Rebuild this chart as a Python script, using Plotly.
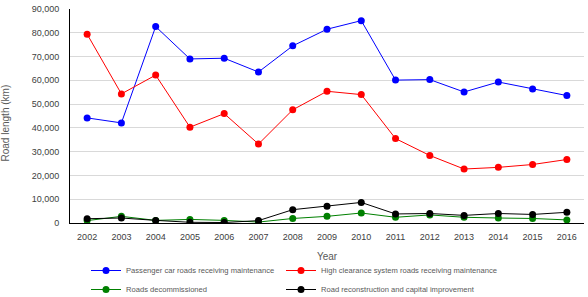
import plotly.graph_objects as go

years = [str(y) for y in range(2002, 2017)]
passenger = [44200, 42100, 82600, 69000, 69300, 63500, 74500, 81500, 85100, 60100, 60300, 55100, 59300, 56400, 53600]
high_clearance = [79400, 54300, 62200, 40300, 46000, 33200, 47600, 55400, 54000, 35500, 28400, 22700, 23400, 24600, 26700]
decommissioned = [1000, 2800, 1100, 1500, 1100, 400, 1900, 2800, 4200, 2400, 3400, 2400, 2100, 1900, 1300]
reconstruction = [1800, 2100, 1100, 300, 200, 1000, 5600, 7000, 8650, 3800, 4000, 3200, 4000, 3600, 4500]

series = [
    ("Passenger car roads receiving maintenance", passenger, "#0000ff", "legend"),
    ("High clearance system roads receiving maintenance", high_clearance, "#ff0000", "legend2"),
    ("Roads decommissioned", decommissioned, "#008000", "legend"),
    ("Road reconstruction and capital improvement", reconstruction, "#000000", "legend2"),
]

fig = go.Figure()
for name, vals, col, lg in series:
    fig.add_trace(go.Scatter(
        x=years, y=vals, name=name, mode="lines+markers",
        line=dict(color=col, width=1),
        marker=dict(color=col, size=7),
        legend=lg,
    ))

txt = "#595959"
leg_common = dict(
    orientation="v", xref="container", xanchor="left",
    y=41/297, yref="container", yanchor="top",
    font=dict(size=7.6, color=txt), tracegroupgap=0, itemwidth=30,
    bgcolor="rgba(0,0,0,0)",
)
fig.update_layout(
    width=588, height=297,
    margin=dict(l=70, r=4, t=9, b=74, autoexpand=False),
    plot_bgcolor="white", paper_bgcolor="white",
    font=dict(family="Liberation Sans", size=9, color=txt),
    showlegend=True,
    legend=dict(x=86/588, **leg_common),
    legend2=dict(x=281/588, **leg_common),
    annotations=[dict(
        text="Road length (km)", textangle=-90,
        xref="paper", x=(5 - 70) / 514, xanchor="center",
        yref="paper", y=0.465, yanchor="middle",
        showarrow=False, font=dict(size=10, color=txt),
    )],
)
fig.update_xaxes(
    type="category", range=[-0.5, 14.5], showgrid=False,
    showline=True, linecolor="#000000", linewidth=1,
    ticks="", ticklabelstandoff=5, tickfont=dict(size=9, color="#404040"),
    title=dict(text="Year", font=dict(size=10, color=txt), standoff=12),
)
fig.update_yaxes(
    range=[0, 90000], dtick=10000, tickformat=",",
    showgrid=True, gridcolor="#d9d9d9", gridwidth=1,
    showline=True, linecolor="#000000", linewidth=1,
    zeroline=False, ticks="", ticklabelstandoff=8, tickfont=dict(size=9, color="#404040"),
)
fig.write_html("out.html")
